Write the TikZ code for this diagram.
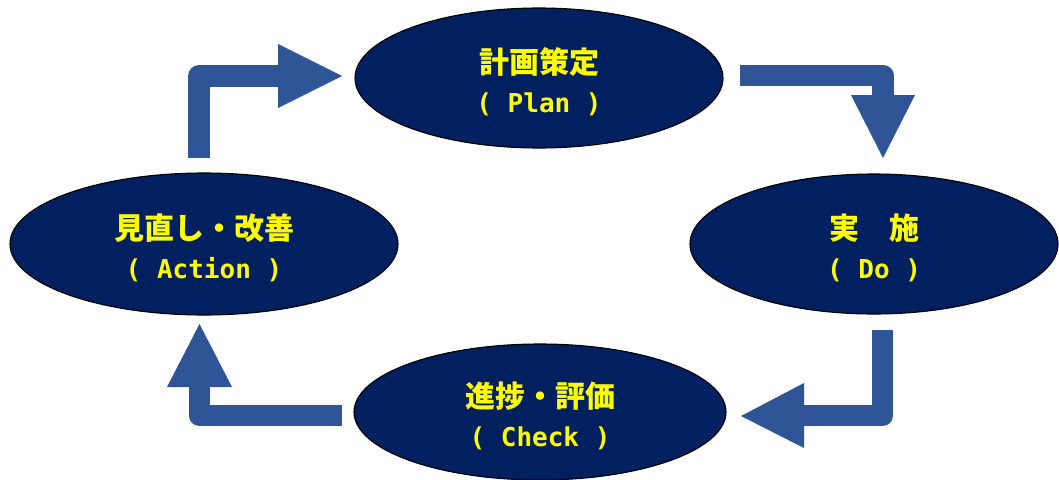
\documentclass[tikz,border=0pt]{standalone}
\usepackage{fontspec}
\usetikzlibrary{shapes.geometric}
\newfontfamily\jpfont{Noto Sans CJK JP}
\newfontfamily\monofont{DejaVu Sans Mono}
\definecolor{arrowblue}{HTML}{2F5597}
\definecolor{navy}{HTML}{002060}
\definecolor{txtyellow}{HTML}{FFFF00}
\tikzset{
  ell/.style={ellipse, draw=black, line width=1.1pt, fill=navy, inner sep=0pt,
    text=txtyellow, align=center, font=\fontsize{30}{39}\selectfont},
  shaft/.style={draw=arrowblue, line width=21.5pt, line join=round, line cap=butt},
  head/.style={fill=arrowblue},
}
\newcommand{\lineone}[1]{{\jpfont\bfseries\fontsize{30}{39}\selectfont\rule{0pt}{34pt}#1}}
\newcommand{\linetwo}[1]{{\monofont\bfseries\fontsize{26}{39}\selectfont #1}}
\begin{document}
\begin{tikzpicture}[x=1pt,y=-1pt]
\useasboundingbox (0,0) rectangle (1059,479);
\fill[white] (0,0) rectangle (1059,479);
% ellipses
\node[ell, minimum width=368pt, minimum height=140pt] (plan) at (539,78)
  {\lineone{計画策定}\\\linetwo{( Plan )}};
\node[ell, minimum width=388pt, minimum height=142pt] (act) at (204,244)
  {\lineone{見直し・改善}\\\linetwo{( Action )}};
\node[ell, minimum width=368pt, minimum height=140pt] (do) at (874,244)
  {\lineone{実　施}\\\linetwo{( Do )}};
\node[ell, minimum width=372pt, minimum height=136pt] (chk) at (540,412)
  {\lineone{進捗・評価}\\\linetwo{( Check )}};
% arrow Action -> Plan
\coordinate (a1s) at (199,158);
\coordinate (a1c) at (199,76);
\coordinate (a1e) at (280,76);
\draw[shaft] (a1s) -- (a1c) -- (a1e);
\fill[head] (278,44) -- (342,76) -- (278,108) -- cycle;
% arrow Plan -> Do
\coordinate (a2s) at (740,75.5);
\coordinate (a2c) at (883,75.5);
\coordinate (a2e) at (883,97);
\draw[shaft] (a2s) -- (a2c) -- (a2e);
\fill[head] (851,95) -- (915,95) -- (883,158) -- cycle;
% arrow Do -> Check
\coordinate (a3s) at (882.5,330);
\coordinate (a3c) at (882.5,415.5);
\coordinate (a3e) at (802,415.5);
\draw[shaft] (a3s) -- (a3c) -- (a3e);
\fill[head] (804,383) -- (804,448) -- (741,416) -- cycle;
% arrow Check -> Action
\coordinate (a4s) at (342,415.5);
\coordinate (a4c) at (199.5,415.5);
\coordinate (a4e) at (199.5,385);
\draw[shaft] (a4s) -- (a4c) -- (a4e);
\fill[head] (167,387) -- (232,387) -- (199.5,324) -- cycle;
\end{tikzpicture}
\end{document}
